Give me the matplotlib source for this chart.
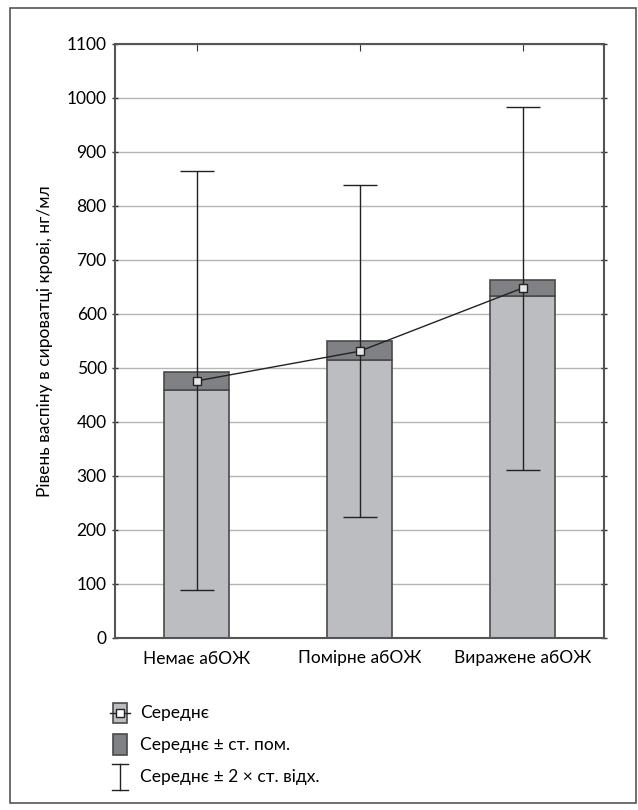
import matplotlib
matplotlib.use("Agg")
from matplotlib import pyplot as plt
from matplotlib.patches import Rectangle
from matplotlib.lines import Line2D
import numpy as np

plt.rcParams['font.family'] = ['Lato', 'DejaVu Sans']

groups = ['Немає абОЖ', 'Помірне абОЖ', 'Виражене абОЖ']
means = [476, 531, 648]
se_low = [460, 514, 633]
se_high = [493, 550, 663]
sd2_low = [89, 225, 312]
sd2_high = [864, 838, 983]

bar_color = '#bcbdc1'
se_color = '#808184'
edge = '#4a4a4a'

W, H = 638, 810
fig = plt.figure(figsize=(W / 100, H / 100), dpi=100)
# axes box in pixels: left 115, right 604, top 44, bottom 638
ax = fig.add_axes([115 / W, 1 - 638 / H, (604 - 115) / W, (638 - 44) / H])

x = np.arange(len(groups))
bw = 0.4
ax.bar(x, se_low, width=bw, color=bar_color, edgecolor=edge, linewidth=1.2, zorder=2)
ax.bar(x, np.array(se_high) - np.array(se_low), bottom=se_low, width=bw,
       color=se_color, edgecolor=edge, linewidth=1.2, zorder=3)
ax.errorbar(x, means,
            yerr=[np.array(means) - np.array(sd2_low), np.array(sd2_high) - np.array(means)],
            fmt='none', ecolor='#222222', elinewidth=1.0, capsize=12, capthick=1.0, zorder=4)
ax.plot(x, means, color='#222222', lw=1.0, marker='s', markersize=6,
        markerfacecolor='#e6e6e6', markeredgecolor='#222222', markeredgewidth=1.0, zorder=5)

ax.set_xlim(-0.5, 2.5)
ax.set_ylim(0, 1100)
ax.set_yticks(np.arange(0, 1101, 100))
ax.set_xticks(x)
ax.set_xticklabels(groups, fontsize=12.5)
ax.tick_params(axis='y', labelsize=12.5, direction='inout', length=5, color='#333333',
               right=True, width=1)
ax.tick_params(axis='x', direction='in', length=5, top=True, color='#333333', pad=9)
ax.grid(axis='y', color='#b5b5b5', lw=1.0, zorder=0)
ax.set_axisbelow(True)
for s in ax.spines.values():
    s.set_color('#555555')
    s.set_linewidth(1.5)

ax.set_ylabel('Рівень васпіну в сироватці крові, нг/мл', fontsize=12.5, labelpad=10)

# legend drawn by hand in pixel positions
def fx(px):
    return px / W

def fy(py):
    return 1 - py / H

tr = fig.transFigure
fig.add_artist(Line2D([fx(110), fx(130)], [fy(713), fy(713)], color='#222222', lw=1, transform=tr))
fig.add_artist(Rectangle((fx(113), fy(723)), 14 / W, 20 / H, facecolor=bar_color,
                         edgecolor=edge, lw=1.2, transform=tr))
fig.add_artist(Line2D([fx(120)], [fy(713)], marker='s', markersize=6, markerfacecolor='white',
                      markeredgecolor='#222222', transform=tr))
fig.add_artist(Rectangle((fx(113), fy(755)), 14 / W, 21 / H, facecolor=se_color,
                         edgecolor=edge, lw=1.2, transform=tr))
fig.add_artist(Line2D([fx(120), fx(120)], [fy(764), fy(790)], color='#222222', lw=1, transform=tr))
fig.add_artist(Line2D([fx(112), fx(128)], [fy(764), fy(764)], color='#222222', lw=1, transform=tr))
fig.add_artist(Line2D([fx(112), fx(128)], [fy(790), fy(790)], color='#222222', lw=1, transform=tr))

leg_text = ['Середнє', 'Середнє ± ст. пом.', 'Середнє ± 2 × ст. відх.']
for t, py in zip(leg_text, [713, 745, 777]):
    fig.text(fx(140), fy(py), t, fontsize=12.5, va='center', ha='left')

# outer frame
fig.add_artist(Rectangle((fx(10), fy(803)), (636 - 10) / W, (803 - 8) / H, fill=False,
                         edgecolor='#555555', lw=1.2, transform=tr))

fig.savefig('out.png', dpi=100)
